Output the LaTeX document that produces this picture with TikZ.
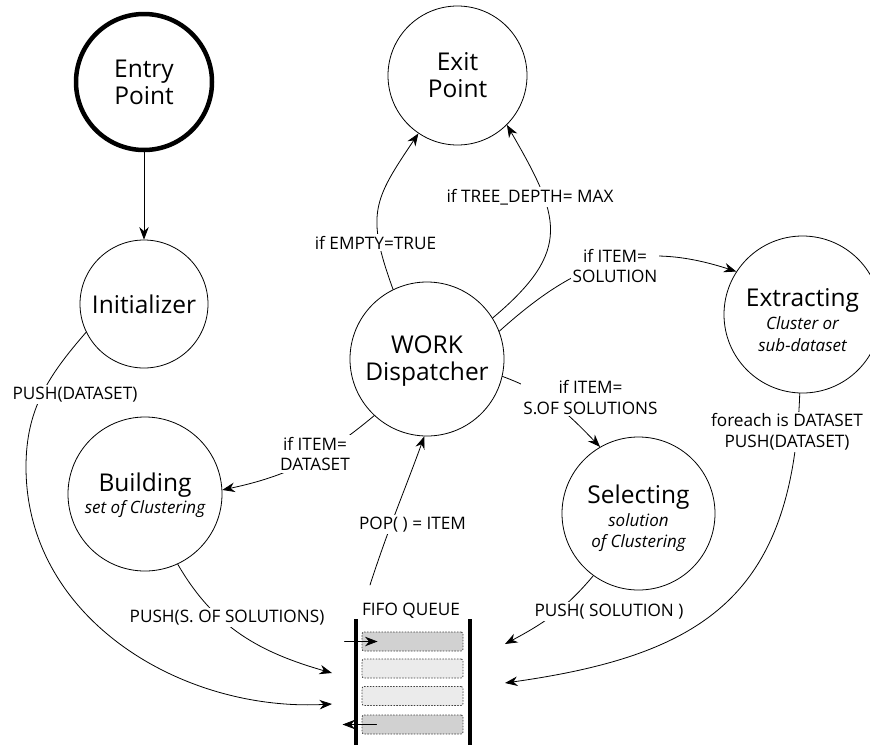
\documentclass[tikz,border=0pt]{standalone}
\usepackage{fontspec}
\setmainfont{Open Sans}
\usepackage{tikz}
\usetikzlibrary{arrows.meta}
\usetikzlibrary{positioning}

\newcommand{\subline}[1]{{\fontsize{17}{22}\selectfont\itshape #1}}
\newcommand{\topstrut}[1]{\rule{0pt}{#1}}

\begin{document}
\begin{tikzpicture}[
		x=1pt, y=-1pt,
		line join=round, line cap=round,
		every node/.style={font=\fontsize{17.2}{20.5}\selectfont},
		state/.style={draw, circle, line width=0.8pt, inner sep=0pt, align=center,
				font=\fontsize{24.5}{27}\selectfont},
		lbl/.style={fill=white, inner sep=2pt, align=center},
		arr/.style={line width=0.8pt, -{Stealth[length=12.5pt, width=9.5pt]}},
		slot/.style={draw=black!75, dotted, line width=0.9pt, rounded corners=2pt,
				minimum width=101pt, minimum height=19pt, inner sep=0pt}
	]
		\useasboundingbox (0,0) rectangle (870,750);

		% States
		\node[state, minimum size=136pt, line width=4.5pt] (entry) at (144,82) {Entry\\Point};
		\node[state, minimum size=128pt] (init) at (144,304) {Initializer};
		\node[state, minimum size=139pt] (exit) at (457.5,75.5) {Exit\\Point};
		\node[state, minimum size=154pt] (work) at (427,359) {\topstrut{22pt}WORK\\Dispatcher};
		\node[state, minimum size=154pt] (build) at (145,494)
			{\topstrut{20.5pt}Building\\[-5pt]\subline{set of Clustering}};
		\node[state, minimum size=157pt] (extract) at (802.5,314.5)
			{\topstrut{30pt}Extracting\\[-4pt]\subline{Cluster or}\\[-5pt]\subline{sub-dataset}};
		\node[state, minimum size=153pt] (select) at (638.5,513.5)
			{\topstrut{27.5pt}Selecting\\[-4pt]\subline{solution}\\[-6pt]\subline{of Clustering}};

		% FIFO queue
		\node[anchor=base] (fifo) at (411,615) {FIFO QUEUE};
		\foreach \i/\y/\c in {1/641.5/black!18, 2/668.5/black!8, 3/696/black!8, 4/724.5/black!18}{
				\node[slot, fill=\c] (q\i) at (412.5,\y) {};
			}
		\draw[line width=4pt, line cap=butt] (356,619) -- (356,745);
		\draw[line width=4pt, line cap=butt] (470,619) -- (470,745);
		\draw[arr] ([xshift=-17pt]q1.west) -- ([xshift=16pt]q1.west);
		\draw[arr] ([xshift=15pt]q4.west) -- ([xshift=-19pt]q4.west);

		% Free ends at the queue
		\coordinate (bendL) at (26,467);
		\coordinate (inL1) at (332,673);
		\coordinate (inL2) at (332,704);
		\coordinate (inR1) at (505,644);
		\coordinate (inR2) at (505,683);
		\coordinate (popQ) at (370,585);

		% Connectors
		\draw[arr] (entry) -- (init);
		\draw[arr] (init.206) to[out=229, in=90] (bendL) to[out=270, in=183] (inL2);
		\draw[arr] (build.295) to[out=300, in=164] (inL1);
		\draw[arr] (work.227) to[out=220, in=12] (build.3);
		\draw[arr] (popQ) to[out=72, in=250] (work.268);
		\draw[arr] (work.116) to[out=110, in=236, looseness=1.3] (exit.236);
		\draw[arr] (work.32) to[out=40, in=300, looseness=1.4] (exit.315);
		\draw[arr] (work.21) to[out=42, in=162, looseness=1.1] (extract.147);
		\draw[arr] (work.347) to[out=-20, in=134] (select.120);
		\draw[arr] (select.234) to[out=230, in=28] (inR1);
		\draw[arr] (extract.268) to[out=268, in=8, looseness=1.25] (inR2);

		% Labels
		\node[lbl, anchor=base] (lPushDS) at (75,399) {PUSH(DATASET)};
		\node[lbl, anchor=base] (lPushSS) at (227,622) {PUSH(S. OF SOLUTIONS)};
		\node[lbl, anchor=base] (lPop) at (412.5,529) {POP( ) = ITEM};
		\node[lbl, anchor=base] (lEmpty) at (375.5,249) {if EMPTY=TRUE};
		\node[lbl, anchor=base] (lDepth) at (530,202) {if TREE\_DEPTH= MAX};
		\node[lbl, anchor=base] (lPushSol) at (609,616) {PUSH( SOLUTION )};
		\node[lbl] (lItemDS) at (315,454) {if ITEM=\\DATASET};
		\node[lbl] (lItemSol) at (615,266) {if ITEM=\\SOLUTION};
		\node[lbl] (lItemSS) at (590.5,397.5) {if ITEM=\\S.OF SOLUTIONS};
		\node[lbl] (lForeach) at (787,432) {foreach is DATASET\\PUSH(DATASET)};
	\end{tikzpicture}
\end{document}
